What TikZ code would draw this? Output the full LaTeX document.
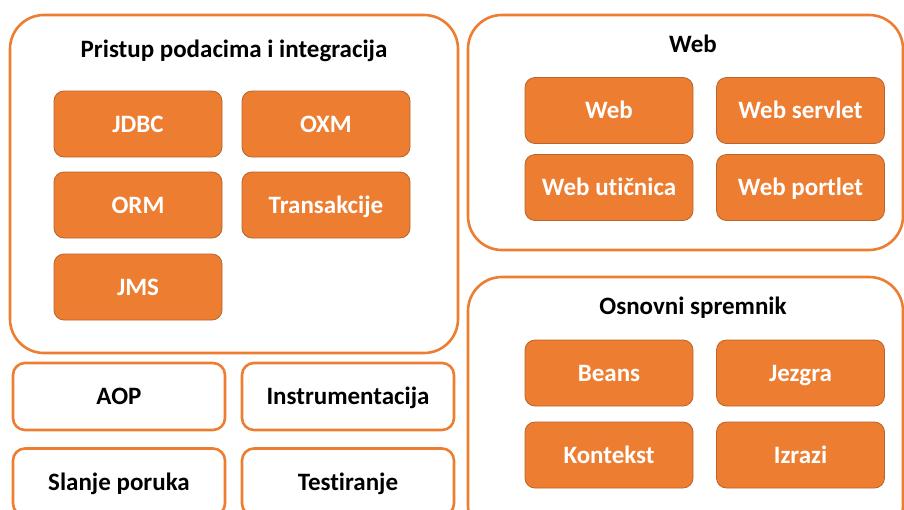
\documentclass[tikz,border=0pt]{standalone}
\usepackage{fontspec}
\setmainfont{Carlito}[Ligatures=NoCommon]
\usetikzlibrary{positioning}
\definecolor{springorange}{HTML}{ED7D31}
\definecolor{springedge}{HTML}{B8652A}
\tikzstyle{group}  = [rectangle, draw=springorange, line width=2.6pt, rounded corners=34pt, fill=white]
\tikzstyle{module} = [rectangle, draw=springedge, line width=0.8pt, rounded corners=10pt, fill=springorange, text=white, minimum width=168pt, minimum height=66pt, text height=16pt, text depth=0pt, font=\fontsize{25}{29}\selectfont\bfseries]
\tikzstyle{single} = [rectangle, draw=springorange, line width=2.6pt, rounded corners=12pt, fill=white, minimum width=212pt, minimum height=67pt, text height=16pt, text depth=0pt, font=\fontsize{25}{29}\selectfont\bfseries]
\tikzstyle{title}  = [text height=16pt, text depth=0pt, font=\fontsize{25}{29}\selectfont\bfseries]

\begin{document}
\begin{tikzpicture}[x=1pt, y=-1pt, node distance=188pt]
            \clip (0,0) rectangle (904,509);
            \fill[white] (0,0) rectangle (904,509);

            % data access
            \node[group, minimum width=448pt, minimum height=338pt] (data) at (234,184) {};
            \node[title] (datatitle) at (234,49) {Pristup podacima i integracija};
            \node[module] (jdbc) at (138,124) {JDBC};
            \node[module, right of=jdbc] (oxm) {OXM};
            \node[module, below of=jdbc, node distance=81pt] (orm) {ORM};
            \node[module, right of=orm] (tx) {Transakcije};
            \node[module, below of=orm, node distance=82pt] (jms) {JMS};

            % web
            \node[group, minimum width=435pt, minimum height=235pt] (web) at (685.5,132.5) {};
            \node[title] (webtitle) at (693,44) {Web};
            \node[module] (webmod) at (609,110.5) {Web};
            \node[module, right of=webmod, node distance=191.5pt] (servlet) {Web servlet};
            \node[module, below of=webmod, node distance=77pt] (socket) {Web utičnica};
            \node[module, right of=socket, node distance=191.5pt] (portlet) {Web portlet};

            % core container
            \node[group, minimum width=435pt, minimum height=262pt] (core) at (685.5,408) {};
            \node[title] (coretitle) at (693,306) {Osnovni spremnik};
            \node[module] (beans) at (609,373) {Beans};
            \node[module, right of=beans, node distance=191.5pt] (kernel) {Jezgra};
            \node[module, below of=beans, node distance=82pt] (context) {Kontekst};
            \node[module, right of=context, node distance=191.5pt] (expr) {Izrazi};

            % single modules
            \node[single] (aop) at (119,396.5) {AOP};
            \node[single, right of=aop, node distance=229pt] (instr) {Instrumentacija};
            \node[single, below of=aop, node distance=85.5pt] (msg) {Slanje poruka};
            \node[single, right of=msg, node distance=229pt] (test) {Testiranje};
        \end{tikzpicture}
\end{document}
